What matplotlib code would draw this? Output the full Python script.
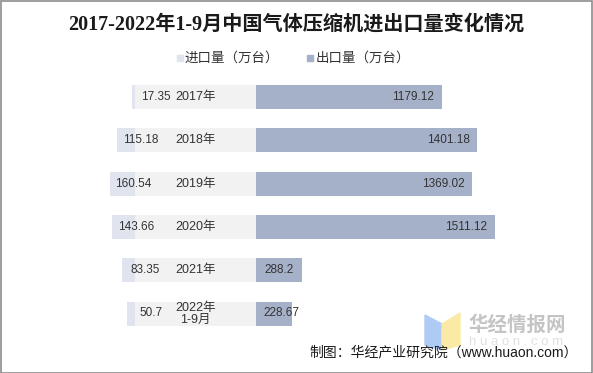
import matplotlib
matplotlib.use("Agg")
import matplotlib.pyplot as plt
from matplotlib.patches import Rectangle, Polygon

years = ["2017年", "2018年", "2019年", "2020年", "2021年", "2022年\n1-9月"]
imports = [17.35, 115.18, 160.54, 143.66, 83.35, 50.7]
exports = [1179.12, 1401.18, 1369.02, 1511.12, 288.2, 228.67]
import_labels = ["17.35", "115.18", "160.54", "143.66", "83.35", "50.7"]
export_labels = ["1179.12", "1401.18", "1369.02", "1511.12", "288.2", "228.67"]
legend_names = ["进口量（万台）", "出口量（万台）"]
title = "2017-2022年1-9月中国气体压缩机进出口量变化情况"
source = "制图：华经产业研究院（www.huaon.com）"

W, H = 593, 373
DPI = 100
UPP = 6.33          # data units per pixel
X0 = 135            # pixel of zero
BAND = 766          # width of the category band in data units
ROW0, ROWSTEP = 97, 43.3

c_exp = "#a5b0c9"
c_imp = "#dfe4ee"
c_band = "#f2f2f2"
txt = "#333333"
cjk = ["Liberation Sans", "Noto Sans CJK SC", "DejaVu Sans"]
plt.rcParams["font.family"] = cjk

fig = plt.figure(figsize=(W / DPI, H / DPI), dpi=DPI)
ax = fig.add_axes([0, 0, 1, 1])
ax.set_xlim(-X0 * UPP, (W - X0) * UPP)
ax.set_ylim((H - ROW0) / ROWSTEP, -ROW0 / ROWSTEP)
ax.axis("off")

pos = list(range(len(years)))
hgt = 24 / ROWSTEP
ax.barh(pos, [-v for v in imports], height=hgt, color=c_imp, left=0)
ax.barh(pos, [BAND] * len(pos), height=hgt, color=c_band, left=0)
ax.barh(pos, exports, height=hgt, color=c_exp, left=BAND)

for i in pos:
    ax.text(-imports[i] + 150, i, import_labels[i], ha="center", va="center",
            fontsize=8.5, color=txt)
    ax.text(BAND / 2, i, years[i], ha="center", va="center", fontsize=9,
            color=txt, linespacing=1.0)
    if exports[i] > 260:
        ax.text(BAND + exports[i] - 50, i, export_labels[i], ha="right",
                va="center", fontsize=8.5, color=txt)
    else:
        ax.text(BAND + 45, i, export_labels[i], ha="left", va="center",
                fontsize=8.5, color=txt)

def fx(px):
    return px / W

def fy(py):
    return 1 - py / H

fig.text(fx(296), fy(25), title, ha="center", va="center", fontsize=14.5,
         fontweight="bold", color="#1a1a1a",
         family=["Liberation Serif", "Noto Sans CJK SC", "DejaVu Sans"])

# legend
for (mx, tx), name, col in zip([(177, 185), (307, 316)], legend_names, [c_imp, c_exp]):
    fig.patches.append(Rectangle((fx(mx), fy(61)), 6 / W, 6 / H, color=col,
                                 transform=fig.transFigure, figure=fig))
    fig.text(fx(tx), fy(58), name, ha="left", va="center", fontsize=9.7, color=txt)

# watermark
fig.patches.append(Polygon([[fx(425), fy(315)], [fx(442), fy(324)], [fx(442), fy(350)], [fx(425), fy(345)]],
                           closed=True, color="#aecbf5", transform=fig.transFigure, figure=fig))
fig.patches.append(Polygon([[fx(442), fy(324)], [fx(460), fy(313)], [fx(460), fy(345)], [fx(442), fy(350)]],
                           closed=True, color="#fbeaa6", transform=fig.transFigure, figure=fig))
fig.text(fx(468), fy(325), "华经情报网", ha="left", va="center", fontsize=14,
         fontweight="bold", color="#c4c4c4")
fig.text(fx(469), fy(342), "h u a o n . c o m", ha="left", va="center", fontsize=9.5,
         color="#e0e0e0")

fig.text(fx(578), fy(352), source, ha="right", va="center", fontsize=10, color="#1a1a1a")

# border
fig.patches.append(Rectangle((0.5 / W, 0.5 / H), 1 - 1.5 / W, 1 - 1.5 / H, fill=False,
                             edgecolor="#8c8c8c", linewidth=1.2,
                             transform=fig.transFigure, figure=fig))

fig.savefig("out.png", dpi=DPI)
